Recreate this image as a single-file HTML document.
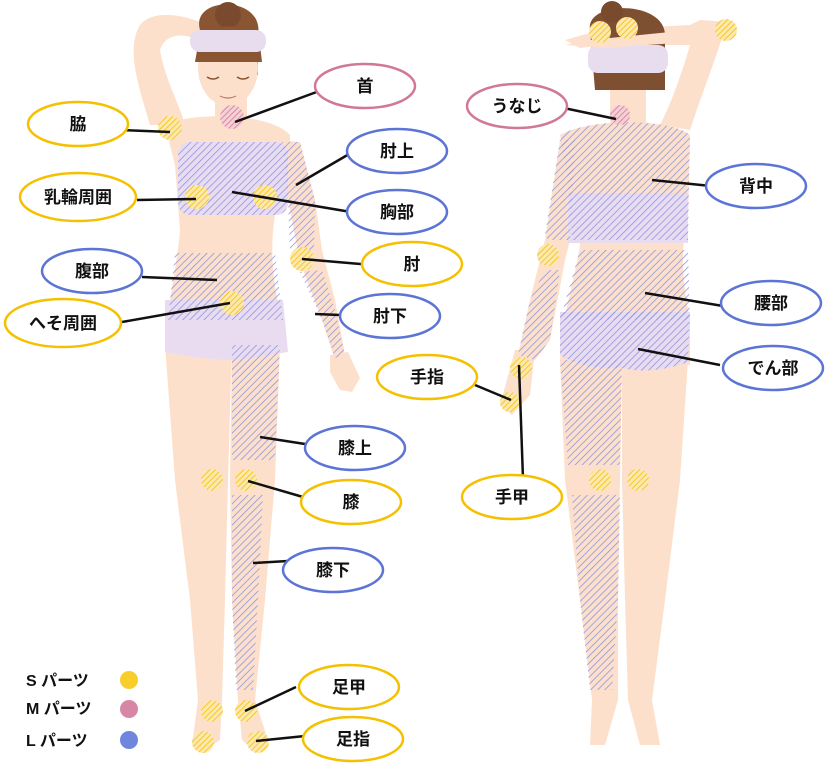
<!DOCTYPE html>
<html><head><meta charset="utf-8"><style>
html,body{margin:0;padding:0;background:#fff;}
svg{display:block;}
text{font-family:"Liberation Sans","Noto Sans CJK JP",sans-serif;font-weight:bold;font-size:17px;fill:#111;}
</style></head><body>
<svg width="825" height="774" viewBox="0 0 825 774" xmlns="http://www.w3.org/2000/svg">
<defs>
<pattern id="hb" width="5" height="5" patternUnits="userSpaceOnUse" patternTransform="rotate(45)"><rect width="5" height="5" fill="none"/><line x1="0" y1="0" x2="0" y2="5" stroke="#8d96e0" stroke-width="1.6"/></pattern>
<pattern id="hy" width="4" height="4" patternUnits="userSpaceOnUse" patternTransform="rotate(45)"><rect width="4" height="4" fill="#fde9b0"/><line x1="0" y1="0" x2="0" y2="4" stroke="#f4c21a" stroke-width="1.8"/></pattern>
<pattern id="hp" width="4" height="4" patternUnits="userSpaceOnUse" patternTransform="rotate(45)"><rect width="4" height="4" fill="#f5d0d6"/><line x1="0" y1="0" x2="0" y2="4" stroke="#d07a95" stroke-width="1.6"/></pattern>
</defs>

<!-- FRONT FIGURE -->
<g fill="#fde0cc">
  <!-- raised arm -->
  <path d="M150,125 C140,90 125,50 140,25 C150,12 175,12 200,22 L200,40 C180,32 165,35 160,50 C165,80 180,105 185,125 Z"/>
  <!-- neck -->
  <rect x="215" y="85" width="32" height="40"/>
  <!-- torso -->
  <path d="M165,125 C190,112 270,112 290,135 L290,145 L275,215 C270,245 272,280 280,310 L285,350 L165,350 C168,300 178,260 180,230 L175,165 Z"/>
  <!-- right arm -->
  <path d="M280,140 L300,142 L315,200 L322,250 L335,300 L345,355 L335,360 L322,320 L300,262 L290,210 Z"/>
  <!-- hand -->
  <path d="M330,355 L348,352 L360,378 L352,392 L340,390 L330,372 Z"/>
  <!-- legs -->
  <path d="M165,345 L232,345 L228,480 L225,600 L222,700 L220,740 L205,750 L192,745 L198,700 L190,600 L175,480 Z"/>
  <path d="M232,345 L280,345 L275,480 L265,600 L255,700 L268,740 L255,752 L242,740 L238,700 L232,600 L230,480 Z"/>
</g>
<path d="M200,30 C190,-5 265,-5 258,35 L258,75 L200,75 Z" fill="#8a5533"/>
<circle cx="228" cy="15" r="13" fill="#7a4a2f"/>
<ellipse cx="228" cy="68" rx="30" ry="38" fill="#fde0cc"/>
<path d="M198,45 C200,20 258,20 260,45 L262,62 L195,62 Z" fill="#8a5533"/>
<rect x="190" y="30" width="76" height="22" rx="10" fill="#e8dcef"/>
<path d="M207,77 q6,4 12,0 M237,77 q6,4 12,0" stroke="#8a5533" stroke-width="1.5" fill="none"/>
<path d="M220,96 q8,4 16,0" stroke="#c0786b" stroke-width="1.2" fill="none"/>
<!-- bra / panties -->
<rect x="178" y="142" width="110" height="73" rx="12" fill="#e9dcf0"/>
<path d="M165,300 L283,300 L288,352 C260,356 245,360 232,360 C210,360 180,355 165,352 Z" fill="#e9dcf0"/>
<!-- front hatches -->
<rect x="178" y="142" width="110" height="73" rx="12" fill="url(#hb)"/>
<path d="M175,253 L275,253 L283,320 L168,320 Z" fill="url(#hb)"/>
<path d="M282,142 L300,142 L315,200 L314,250 L290,252 L288,200 Z" fill="url(#hb)"/>
<path d="M300,272 L322,270 L335,310 L345,355 L335,358 L322,320 Z" fill="url(#hb)"/>
<path d="M232,345 L280,345 L275,460 L232,460 Z" fill="url(#hb)"/>
<path d="M232,495 L263,495 L258,600 L253,690 L236,690 L232,600 Z" fill="url(#hb)"/>
<circle cx="170" cy="128" r="12" fill="url(#hy)"/>
<circle cx="232" cy="117" r="12" fill="url(#hp)"/>
<circle cx="197" cy="197" r="12" fill="url(#hy)"/>
<circle cx="265" cy="197" r="12" fill="url(#hy)"/>
<circle cx="302" cy="259" r="12" fill="url(#hy)"/>
<circle cx="232" cy="303" r="12" fill="url(#hy)"/>
<circle cx="212" cy="480" r="11" fill="url(#hy)"/>
<circle cx="246" cy="480" r="11" fill="url(#hy)"/>
<circle cx="212" cy="711" r="11" fill="url(#hy)"/>
<circle cx="246" cy="711" r="11" fill="url(#hy)"/>
<circle cx="203" cy="742" r="11" fill="url(#hy)"/>
<circle cx="258" cy="742" r="11" fill="url(#hy)"/>

<!-- BACK FIGURE -->
<g fill="#fde0cc">
  <path d="M690,130 C700,100 715,60 722,38 L730,22 L700,20 L690,25 L600,30 L565,40 L580,48 L605,45 L690,45 C680,80 668,110 660,125 Z"/>
  <rect x="610" y="85" width="36" height="45"/>
  <path d="M560,135 C590,118 670,118 690,135 L688,220 C680,250 682,280 690,320 L690,365 L560,365 C560,320 575,280 580,245 L568,180 Z"/>
  <path d="M560,140 L575,140 L580,200 L565,260 L550,340 L535,360 L518,355 L530,300 L545,240 Z"/>
  <path d="M515,350 L535,350 L530,395 L512,415 L500,405 Z"/>
  <path d="M560,360 L622,360 L620,480 L618,600 L618,700 L605,745 L590,745 L592,700 L580,600 L565,480 Z"/>
  <path d="M622,360 L688,360 L680,480 L665,600 L652,700 L660,745 L640,745 L628,700 L625,600 L622,480 Z"/>
</g>
<path d="M590,30 C585,0 665,0 665,35 L665,90 L595,90 Z" fill="#7f4f32"/>
<circle cx="612" cy="12" r="11" fill="#7a4a2f"/>
<rect x="588" y="45" width="80" height="28" rx="10" fill="#e8dcef"/>
<path d="M590,40 L690,30 L690,42 L605,48 L565,45 Z" fill="#fde0cc"/>
<rect x="568" y="193" width="120" height="50" fill="#e9dcf0"/>
<path d="M560,312 L690,312 L688,362 C660,372 640,372 622,368 C600,370 575,365 560,355 Z" fill="#e9dcf0"/>
<path d="M560,135 C590,118 670,118 690,135 L688,240 L572,240 L568,180 Z" fill="url(#hb)"/>
<path d="M580,250 L688,250 L690,320 L560,320 Z" fill="url(#hb)"/>
<path d="M560,312 L690,312 L688,362 C660,372 640,372 622,368 C600,370 575,365 560,355 Z" fill="url(#hb)"/>
<path d="M560,140 L575,140 L570,240 L548,240 L545,235 Z" fill="url(#hb)"/>
<path d="M545,270 L560,270 L550,340 L535,360 L518,355 L530,300 Z" fill="url(#hb)"/>
<path d="M560,360 L622,360 L620,465 L568,465 Z" fill="url(#hb)"/>
<path d="M572,495 L620,495 L618,600 L612,690 L590,690 L580,600 Z" fill="url(#hb)"/>
<circle cx="620" cy="115" r="10" fill="url(#hp)"/>
<circle cx="600" cy="32" r="11" fill="url(#hy)"/>
<circle cx="627" cy="28" r="11" fill="url(#hy)"/>
<circle cx="726" cy="30" r="11" fill="url(#hy)"/>
<circle cx="548" cy="255" r="11" fill="url(#hy)"/>
<circle cx="521" cy="368" r="11" fill="url(#hy)"/>
<circle cx="510" cy="402" r="10" fill="url(#hy)"/>
<circle cx="600" cy="480" r="11" fill="url(#hy)"/>
<circle cx="638" cy="480" r="11" fill="url(#hy)"/>

<!-- connector lines -->
<g stroke="#111" stroke-width="2.5">
<line x1="120" y1="130" x2="170" y2="132"/>
<line x1="322" y1="90" x2="235" y2="122"/>
<line x1="137" y1="200" x2="196" y2="199"/>
<line x1="356" y1="150" x2="296" y2="185"/>
<line x1="351" y1="212" x2="232" y2="192"/>
<line x1="142" y1="277" x2="217" y2="280"/>
<line x1="372" y1="265" x2="302" y2="259"/>
<line x1="122" y1="322" x2="230" y2="303"/>
<line x1="340" y1="315" x2="315" y2="314"/>
<line x1="305" y1="444" x2="260" y2="437"/>
<line x1="303" y1="497" x2="248" y2="481"/>
<line x1="288" y1="561" x2="253" y2="563"/>
<line x1="296" y1="687" x2="245" y2="711"/>
<line x1="305" y1="736" x2="256" y2="741"/>
<line x1="559" y1="107" x2="616" y2="119"/>
<line x1="711" y1="186" x2="652" y2="180"/>
<line x1="723" y1="306" x2="645" y2="293"/>
<line x1="720" y1="365" x2="638" y2="349"/>
<line x1="475" y1="385" x2="511" y2="400"/>
<line x1="519" y1="365" x2="523" y2="479"/>
</g>

<!-- label ellipses -->
<g fill="#fff" stroke-width="2.5">
<ellipse cx="365" cy="86" rx="50" ry="22" stroke="#d1779a"/>
<ellipse cx="78" cy="124" rx="50" ry="22" stroke="#f5c000"/>
<ellipse cx="78" cy="197" rx="58" ry="24" stroke="#f5c000"/>
<ellipse cx="397" cy="151" rx="50" ry="22" stroke="#5b74d6"/>
<ellipse cx="397" cy="212" rx="50" ry="22" stroke="#5b74d6"/>
<ellipse cx="92" cy="271" rx="50" ry="22" stroke="#5b74d6"/>
<ellipse cx="412" cy="264" rx="50" ry="22" stroke="#f5c000"/>
<ellipse cx="63" cy="323" rx="58" ry="24" stroke="#f5c000"/>
<ellipse cx="390" cy="316" rx="50" ry="22" stroke="#5b74d6"/>
<ellipse cx="355" cy="448" rx="50" ry="22" stroke="#5b74d6"/>
<ellipse cx="351" cy="502" rx="50" ry="22" stroke="#f5c000"/>
<ellipse cx="333" cy="570" rx="50" ry="22" stroke="#5b74d6"/>
<ellipse cx="349" cy="687" rx="50" ry="22" stroke="#f5c000"/>
<ellipse cx="353" cy="739" rx="50" ry="22" stroke="#f5c000"/>
<ellipse cx="517" cy="106" rx="50" ry="22" stroke="#d1779a"/>
<ellipse cx="756" cy="186" rx="50" ry="22" stroke="#5b74d6"/>
<ellipse cx="771" cy="303" rx="50" ry="22" stroke="#5b74d6"/>
<ellipse cx="773" cy="368" rx="50" ry="22" stroke="#5b74d6"/>
<ellipse cx="427" cy="377" rx="50" ry="22" stroke="#f5c000"/>
<ellipse cx="512" cy="497" rx="50" ry="22" stroke="#f5c000"/>
</g>
<g text-anchor="middle">
<text x="365" y="92">首</text>
<text x="78" y="130">脇</text>
<text x="78" y="203">乳輪周囲</text>
<text x="397" y="157">肘上</text>
<text x="397" y="218">胸部</text>
<text x="92" y="277">腹部</text>
<text x="412" y="270">肘</text>
<text x="63" y="329">へそ周囲</text>
<text x="390" y="322">肘下</text>
<text x="355" y="454">膝上</text>
<text x="351" y="508">膝</text>
<text x="333" y="576">膝下</text>
<text x="349" y="693">足甲</text>
<text x="353" y="745">足指</text>
<text x="517" y="112">うなじ</text>
<text x="756" y="192">背中</text>
<text x="771" y="309">腰部</text>
<text x="773" y="374">でん部</text>
<text x="427" y="383">手指</text>
<text x="512" y="503">手甲</text>
</g>

<!-- legend -->
<text x="26" y="686" style="font-size:16px">S パーツ</text>
<text x="26" y="714" style="font-size:16px">M パーツ</text>
<text x="26" y="746" style="font-size:16px">L パーツ</text>
<circle cx="129" cy="680" r="9" fill="#f8cf2a"/>
<circle cx="129" cy="709" r="9" fill="#d886a5"/>
<circle cx="129" cy="740" r="9" fill="#6f86de"/>
</svg>
</body></html>
